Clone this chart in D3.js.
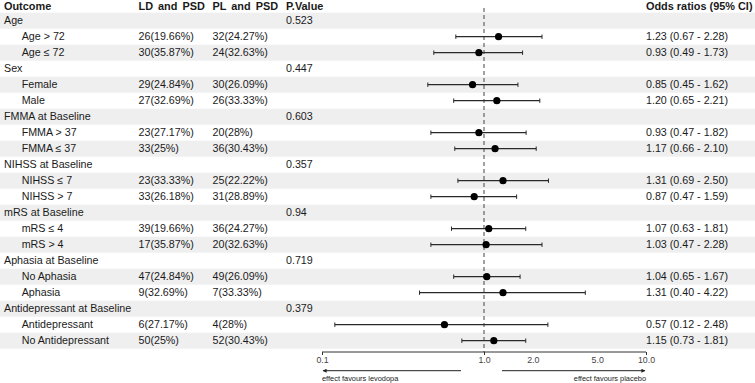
<!DOCTYPE html>
<html>
<head>
<meta charset="utf-8">
<script src="https://cdn.jsdelivr.net/npm/d3@7"></script>
<style>
  body { margin: 0; background: #fff; }
  text { font-family: "Liberation Sans", Arial, sans-serif; fill: #1a1a1a; }
</style>
</head>
<body>
<div id="chart"></div>
<script>
var width = 755, height = 383;

// table data
var outcomes = ["Age", "Age > 72", "Age ≤ 72", "Sex", "Female", "Male",
  "FMMA at Baseline", "FMMA > 37", "FMMA ≤ 37", "NIHSS at Baseline", "NIHSS ≤ 7", "NIHSS > 7",
  "mRS at Baseline", "mRS ≤ 4", "mRS > 4", "Aphasia at Baseline", "No Aphasia", "Aphasia",
  "Antidepressant at Baseline", "Antidepressant", "No Antidepressant"];
var isGroup = [1,0,0,1,0,0,1,0,0,1,0,0,1,0,0,1,0,0,1,0,0];
var ldPsd = ["", "26(19.66%)", "30(35.87%)", "", "29(24.84%)", "27(32.69%)",
  "", "23(27.17%)", "33(25%)", "", "23(33.33%)", "33(26.18%)",
  "", "39(19.66%)", "17(35.87%)", "", "47(24.84%)", "9(32.69%)",
  "", "6(27.17%)", "50(25%)"];
var plPsd = ["", "32(24.27%)", "24(32.63%)", "", "30(26.09%)", "26(33.33%)",
  "", "20(28%)", "36(30.43%)", "", "25(22.22%)", "31(28.89%)",
  "", "36(24.27%)", "20(32.63%)", "", "49(26.09%)", "7(33.33%)",
  "", "4(28%)", "52(30.43%)"];
var pValues = ["0.523", "", "", "0.447", "", "", "0.603", "", "", "0.357", "", "",
  "0.94", "", "", "0.719", "", "", "0.379", "", ""];
var oddsRatio = [null, 1.23, 0.93, null, 0.85, 1.20, null, 0.93, 1.17, null, 1.31, 0.87,
  null, 1.07, 1.03, null, 1.04, 1.31, null, 0.57, 1.15];
var ciLow = [null, 0.67, 0.49, null, 0.45, 0.65, null, 0.47, 0.66, null, 0.69, 0.47,
  null, 0.63, 0.47, null, 0.65, 0.40, null, 0.12, 0.73];
var ciHigh = [null, 2.28, 1.73, null, 1.62, 2.21, null, 1.82, 2.10, null, 2.50, 1.59,
  null, 1.81, 2.28, null, 1.67, 4.22, null, 2.48, 1.81];
var axisTicks = [0.1, 1, 2, 5, 10];

var svg = d3.select("#chart").append("svg")
    .attr("width", width)
    .attr("height", height);

var rows = d3.range(outcomes.length);

var y = d3.scaleBand()
    .domain(rows)
    .range([12.7, 12.7 + 16 * rows.length]);

var x = d3.scaleLog()
    .domain([0.1, 10])
    .range([322, 646]);

function yc(i) { return y(i) + y.bandwidth() / 2; }

// striped rows
svg.selectAll("rect.band")
    .data(rows.filter(function(i) { return i % 2 == 0; }))
    .enter()
    .append("rect")
    .attr("class", "band")
    .attr("x", 0)
    .attr("y", function(i) { return y(i); })
    .attr("width", width)
    .attr("height", y.bandwidth())
    .attr("fill", "#efefef");

// header
var headerY = 6;
var header = [["Outcome", 4], ["LD and PSD", 138.5], ["PL and PSD", 212.5], ["P.Value", 286], ["Odds ratios (95% CI)", 646]];
svg.selectAll("text.header")
    .data(header)
    .enter()
    .append("text")
    .attr("class", "header")
    .attr("x", function(d) { return d[1]; })
    .attr("y", headerY)
    .attr("dy", "0.35em")
    .style("font-size", "10.9px")
    .style("font-weight", "bold")
    .style("word-spacing", function(d) { return d[0].indexOf("PSD") >= 0 ? "2px" : "0px"; })
    .text(function(d) { return d[0]; });

// table columns
function addColumn(values, xpos, indentGroups) {
    svg.append("g").selectAll("text")
        .data(rows)
        .enter()
        .append("text")
        .attr("x", function(i) { return indentGroups && !isGroup[i] ? xpos + 17.7 : xpos; })
        .attr("y", function(i) { return yc(i); })
        .attr("dy", "0.35em")
        .style("font-size", "10.7px")
        .text(function(i) { return values[i]; });
}
addColumn(outcomes, 4, true);
addColumn(ldPsd, 138.5, false);
addColumn(plPsd, 212.5, false);
addColumn(pValues, 286, false);

var orRows = rows.filter(function(i) { return oddsRatio[i] != null; });

svg.append("g").selectAll("text")
    .data(orRows)
    .enter()
    .append("text")
    .attr("x", 646)
    .attr("y", function(i) { return yc(i); })
    .attr("dy", "0.35em")
    .style("font-size", "10.7px")
    .text(function(i) {
        return oddsRatio[i].toFixed(2) + " (" + ciLow[i].toFixed(2) + " - " + ciHigh[i].toFixed(2) + ")";
    });

// reference line at 1
var axisY = 352;
svg.append("line")
    .attr("x1", x(1)).attr("x2", x(1))
    .attr("y1", 8).attr("y2", axisY)
    .attr("stroke", "#555")
    .attr("stroke-width", 1.1)
    .attr("stroke-dasharray", "4,3");

// confidence intervals
var ci = svg.append("g").selectAll("g")
    .data(orRows)
    .enter()
    .append("g");

ci.append("line")
    .attr("x1", function(i) { return x(ciLow[i]); })
    .attr("x2", function(i) { return x(ciHigh[i]); })
    .attr("y1", function(i) { return yc(i); })
    .attr("y2", function(i) { return yc(i); })
    .attr("stroke", "#2a2a2a")
    .attr("stroke-width", 1.2);

ci.append("line")
    .attr("x1", function(i) { return x(ciLow[i]); })
    .attr("x2", function(i) { return x(ciLow[i]); })
    .attr("y1", function(i) { return yc(i) - 2.2; })
    .attr("y2", function(i) { return yc(i) + 2.2; })
    .attr("stroke", "#2a2a2a")
    .attr("stroke-width", 1);

ci.append("line")
    .attr("x1", function(i) { return x(ciHigh[i]); })
    .attr("x2", function(i) { return x(ciHigh[i]); })
    .attr("y1", function(i) { return yc(i) - 2.2; })
    .attr("y2", function(i) { return yc(i) + 2.2; })
    .attr("stroke", "#2a2a2a")
    .attr("stroke-width", 1);

ci.append("circle")
    .attr("cx", function(i) { return x(oddsRatio[i]); })
    .attr("cy", function(i) { return yc(i); })
    .attr("r", 3.6)
    .attr("fill", "#000");

// x axis
var axis = svg.append("g")
    .attr("transform", "translate(0," + axisY + ")")
    .call(d3.axisBottom(x)
        .tickValues(axisTicks)
        .tickSize(3)
        .tickPadding(2)
        .tickFormat(d3.format(".1f")));

axis.select(".domain").attr("stroke", "#333").attr("d", "M" + x(0.1) + ",0H" + x(10));
axis.selectAll(".tick line")
    .attr("stroke", "#333")
    .style("display", function(d) { return (d == 2 || d == 5) ? "none" : null; });
axis.selectAll(".tick text")
    .attr("fill", "#444")
    .style("fill", "#444")
    .style("font-size", "8.8px")
    .style("font-family", "'Liberation Sans', Arial, sans-serif");

// direction arrows
svg.append("defs").append("marker")
    .attr("id", "arrow")
    .attr("viewBox", "0 0 10 10")
    .attr("refX", 9).attr("refY", 5)
    .attr("markerWidth", 6).attr("markerHeight", 4)
    .attr("orient", "auto")
  .append("path")
    .attr("d", "M0,0L10,5L0,10Z")
    .attr("fill", "#222");

var arrowY = 370.7;
svg.append("line")
    .attr("x1", 461).attr("x2", x(0.1) + 1)
    .attr("y1", arrowY).attr("y2", arrowY)
    .attr("stroke", "#222").attr("stroke-width", 1)
    .attr("marker-end", "url(#arrow)");

svg.append("line")
    .attr("x1", 502).attr("x2", x(10) - 1)
    .attr("y1", arrowY).attr("y2", arrowY)
    .attr("stroke", "#222").attr("stroke-width", 1)
    .attr("marker-end", "url(#arrow)");

svg.append("text")
    .attr("x", x(0.1))
    .attr("y", 378)
    .attr("dy", "0.35em")
    .style("font-size", "7.4px")
    .style("fill", "#222")
    .text("effect favours levodopa");

svg.append("text")
    .attr("x", x(10))
    .attr("y", 378)
    .attr("dy", "0.35em")
    .attr("text-anchor", "end")
    .style("font-size", "7.4px")
    .style("fill", "#222")
    .text("effect favours placebo");
</script>
</body>
</html>
